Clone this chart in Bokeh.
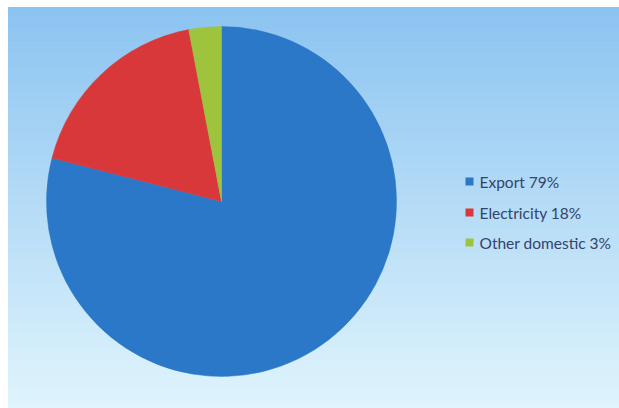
import numpy as np
from bokeh.plotting import figure
from bokeh.models import ColumnDataSource, Range1d
from bokeh.core.properties import value
from bokeh.embed import file_html
from bokeh.resources import INLINE

# Data
categories = ["Export", "Electricity", "Other domestic"]
shares = [79, 18, 3]
colors = ["#2b78c8", "#d9383a", "#9dc43c"]
labels = ["Export 79%", "Electricity 18%", "Other domestic 3%"]

W, H = 619, 408
p = figure(width=W, height=H, output_backend="svg", toolbar_location=None,
           x_range=Range1d(0, W), y_range=Range1d(0, H), min_border=0)
p.axis.visible = False
p.grid.visible = False
p.outline_line_color = None
p.background_fill_color = "white"
p.border_fill_color = "white"

# gradient background panel (style only)
top_c = np.array([0x8c, 0xc4, 0xf1])
bot_c = np.array([0xe0, 0xf5, 0xfd])
x0, x1 = 8, W
ytop, ybot = H - 7, -2
n = 80
edges = np.linspace(ytop, ybot, n + 1)
fills = []
for i in range(n):
    t = i / (n - 1)
    c = (top_c * (1 - t) + bot_c * t).astype(int)
    fills.append("#%02x%02x%02x" % tuple(c))
p.quad(left=[x0] * n, right=[x1 + 2] * n, top=edges[:-1], bottom=edges[1:],
       fill_color=fills, line_color=fills, line_width=1)

# pie
total = sum(shares)
fracs = np.array(shares) / total
cum = np.concatenate([[0], np.cumsum(fracs)])
start = np.pi / 2 - cum[:-1] * 2 * np.pi
end = np.pi / 2 - cum[1:] * 2 * np.pi
cx, cy, r = 221, H - 201, 175
src = ColumnDataSource(dict(start=start, end=end, color=colors,
                            x=[cx] * 3, y=[cy] * 3))
p.wedge(x="x", y="y", radius=r, start_angle="start", end_angle="end",
        direction="clock", fill_color="color", line_color="color",
        line_width=0.5, source=src)

# legend
lx = 469
ly = [H - 181, H - 212, H - 242]
p.rect(x=[lx] * 3, y=ly, width=8, height=8, fill_color=colors, line_color=None)
p.text(x=[lx + 10] * 3, y=ly, text=labels, text_font=value("Lato"),
       text_font_size="15.5px", text_color="#34436a", text_baseline="middle",
       text_align="left", text_font_style="normal")

open("out.html", "w").write(file_html(p, INLINE))
